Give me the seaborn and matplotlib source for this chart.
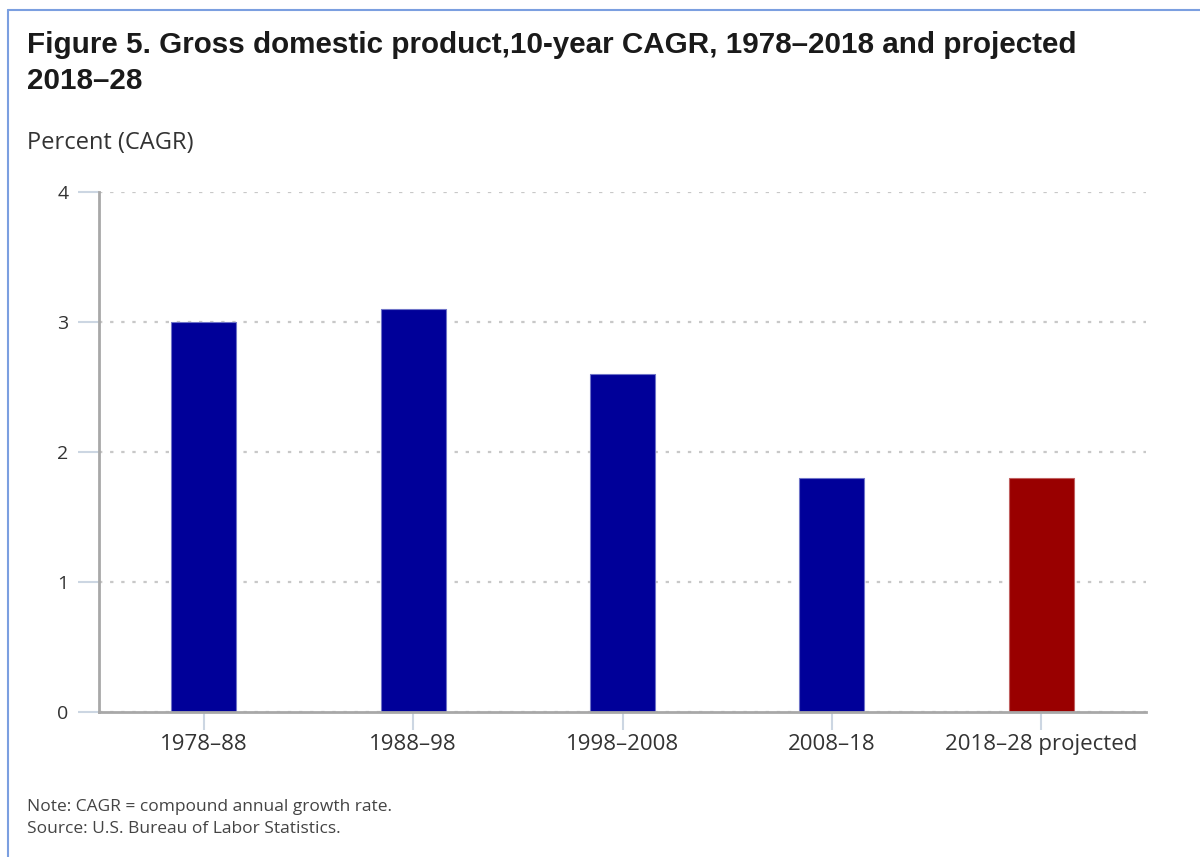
import matplotlib
matplotlib.use("Agg")
import matplotlib.pyplot as plt
import seaborn as sns
import pandas as pd

# Data
periods = ["1978–88", "1988–98", "1998–2008", "2008–18", "2018–28 projected"]
cagr = [3.0, 3.1, 2.6, 1.8, 1.8]
kind = ["historical", "historical", "historical", "historical", "projected"]
palette = {"historical": "#000099", "projected": "#990000"}
y_ticks = [0, 1, 2, 3, 4]

df = pd.DataFrame({"period": periods, "cagr": cagr, "kind": kind})

sns.set_style("white")
plt.rcParams["font.family"] = ["Open Sans", "DejaVu Sans"]

fig = plt.figure(figsize=(12, 8.57), dpi=100)
ax = fig.add_axes([0.0825, 0.169, 0.8725, 0.607])

sns.barplot(data=df, x="period", y="cagr", hue="kind", palette=palette,
            dodge=False, width=0.31, legend=False, ax=ax, saturation=1,
            edgecolor="#6f74c8", linewidth=0.8)
for p in ax.patches:
    if p.get_facecolor()[0] > 0.4:
        p.set_edgecolor("#c06060")

ax.set_xlim(-0.5, 4.5)
ax.set_ylim(0, 4)
ax.set_yticks(y_ticks)
ax.set_xlabel("")
ax.set_ylabel("")

# Dotted horizontal gridlines
ax.yaxis.grid(True, linestyle=(0, (1.5, 3.5)), color="#c8c8c8", linewidth=1.6)
ax.set_axisbelow(True)

for side in ("top", "right"):
    ax.spines[side].set_visible(False)
for side in ("left", "bottom"):
    ax.spines[side].set_color("#a8a8a8")
    ax.spines[side].set_linewidth(2)

ax.tick_params(axis="y", length=15, width=1.5, color="#ccd6e2", pad=7,
               labelsize=14, labelcolor="#333333", left=True)
ax.tick_params(axis="x", length=13, width=1.5, color="#ccd6e2", pad=3,
               labelsize=16, labelcolor="#333333", bottom=True, direction="out")

# Title, unit label and notes
fig.text(0.0225, 0.964, "Figure 5. Gross domestic product,10-year CAGR, 1978–2018 and projected\n2018–28",
         family=["Liberation Sans", "DejaVu Sans"], fontweight="bold", fontsize=21.3,
         color="#1a1a1a", va="top", ha="left", linespacing=1.35)
fig.text(0.0225, 0.833, "Percent (CAGR)", fontsize=17, color="#333333", va="center", ha="left")
fig.text(0.0225, 0.058, "Note: CAGR = compound annual growth rate.", fontsize=12.5,
         color="#444444", va="center", ha="left")
fig.text(0.0225, 0.033, "Source: U.S. Bureau of Labor Statistics.", fontsize=12.5,
         color="#444444", va="center", ha="left")

# Thin frame along the top and left edges
fig.add_artist(plt.Line2D([0.0067, 1.0], [0.988, 0.988], transform=fig.transFigure,
                          color="#7b9fe0", linewidth=1.5))
fig.add_artist(plt.Line2D([0.0067, 0.0067], [0.0, 0.988], transform=fig.transFigure,
                          color="#7b9fe0", linewidth=1.5))

fig.savefig("out.png", dpi=100)
